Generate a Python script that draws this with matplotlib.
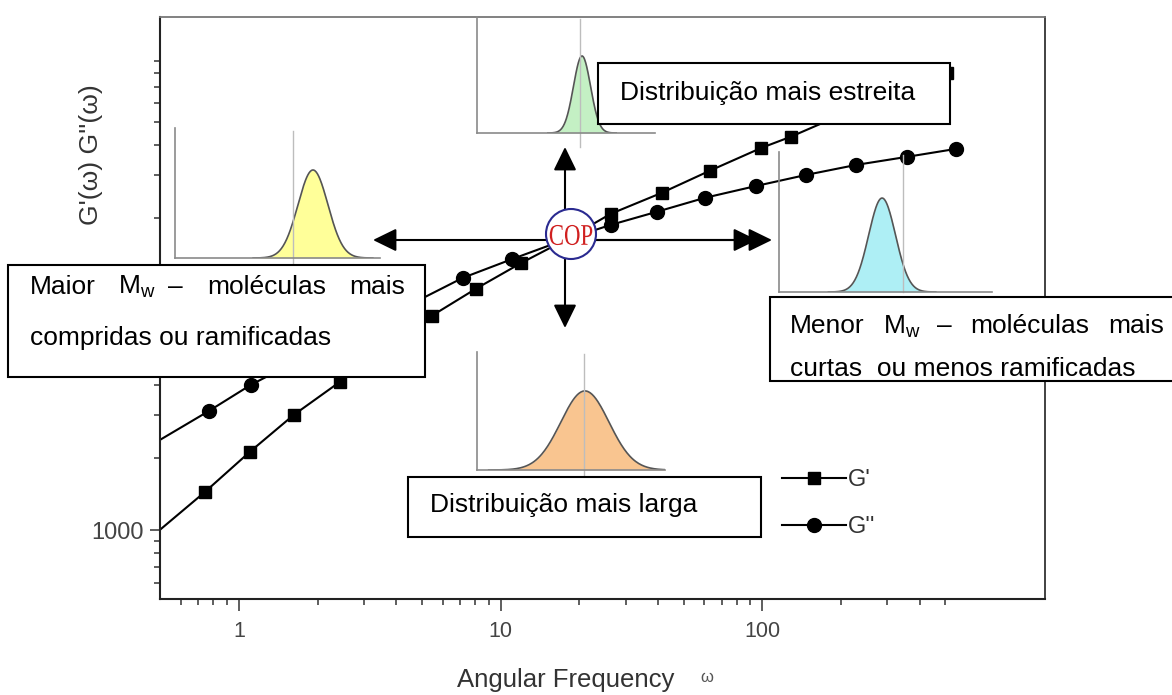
import numpy as np
import matplotlib
matplotlib.use('Agg')
import matplotlib.pyplot as plt
from matplotlib.patches import Rectangle, Circle, PathPatch
from matplotlib.ticker import FixedLocator, FixedFormatter, NullFormatter
from matplotlib.textpath import TextPath
from matplotlib.font_manager import FontProperties
from matplotlib.transforms import Affine2D

plt.rcParams['font.family'] = ['Liberation Sans', 'DejaVu Sans']

W, H = 1172, 695

# G' (squares) - angular frequency vs modulus
freq_g1 = [0.45, 0.742, 1.10, 1.62, 2.43, 3.64, 5.45, 8.03, 12.0, 17.7, 26.3,
           41.2, 62.8, 99.1, 128, 200, 319, 508]
g1 = [910, 1440, 2113, 3014, 4137, 5680, 7795, 10100, 12960, 16160, 20730,
      25360, 31330, 39060, 43400, 53600, 65600, 80200]

# G'' (circles)
freq_g2 = [0.45, 0.768, 1.11, 1.64, 2.43, 3.64, 7.16, 11.1, 17.1, 26.3, 39.4,
           60.1, 94.9, 147, 228.5, 357, 550]
g2 = [2218, 3130, 4020, 5010, 6250, 7720, 11220, 13460, 16000, 18650, 21140,
      24170, 27120, 30140, 33180, 35840, 38690]

# molecular weight distributions shown in the small insets
dist_center = [0.673, 0.59, 0.484, 0.574]
dist_sigma = [0.073, 0.048, 0.063, 0.128]
dist_peak = [0.677, 0.664, 0.671, 0.67]
dist_ref = [0.576, 0.579, 0.582, 0.569]
dist_colors = ['#FFFF99', '#C4F0C4', '#AEEFF5', '#F9C590']

x_major = [1, 10, 100]
x_major_labels = ['1', '10', '100']
x_minor = [0.6, 0.7, 0.8, 0.9] + [2, 3, 4, 5, 6, 7, 8, 9] + \
          [20, 30, 40, 50, 60, 70, 80, 90] + [200, 300, 400, 500]
y_major = [1000, 10000]
y_major_labels = ['1000', '']
y_minor = [600, 700, 800, 900] + [2000, 3000, 4000, 5000, 6000, 7000, 8000, 9000] + \
          [20000, 30000, 40000, 50000, 60000, 70000, 80000, 90000]


def px_axes(l, b, r, t, **kw):
    return fig.add_axes([l / W, 1 - b / H, (r - l) / W, (b - t) / H], **kw)


fig = plt.figure(figsize=(W / 100, H / 100), dpi=100)
fig.patch.set_facecolor('white')

# main axes
ax = px_axes(160, 599, 1045, 17, zorder=0)
ax.set_xscale('log')
ax.set_yscale('log')
ax.set_xlim(0.5, 1200)
ax.set_ylim(516, 137000)

ax.plot(freq_g1, g1, '-s', color='black', ms=9, lw=1.5, label="G'")
ax.plot(freq_g2, g2, '-o', color='black', ms=10, lw=1.5, label="G''")

ax.xaxis.set_major_locator(FixedLocator(x_major))
ax.xaxis.set_major_formatter(FixedFormatter(x_major_labels))
ax.xaxis.set_minor_locator(FixedLocator(x_minor))
ax.xaxis.set_minor_formatter(NullFormatter())
ax.yaxis.set_major_locator(FixedLocator(y_major))
ax.yaxis.set_major_formatter(FixedFormatter(y_major_labels))
ax.yaxis.set_minor_locator(FixedLocator(y_minor))
ax.yaxis.set_minor_formatter(NullFormatter())

ax.tick_params(axis='x', which='major', direction='out', length=8.5, width=1.1,
               color='#333333', labelsize=15.5, labelcolor='#444444', pad=7)
ax.tick_params(axis='x', which='minor', direction='out', length=4.5, width=1.1, color='#333333')
ax.tick_params(axis='y', which='major', direction='out', length=7, width=1.1,
               color='#333333', labelsize=17, labelcolor='#444444', pad=5)
ax.tick_params(axis='y', which='minor', direction='out', length=4, width=1.1, color='#333333')

for s in ['left', 'bottom']:
    ax.spines[s].set_color('#222222')
    ax.spines[s].set_linewidth(1.5)
ax.spines['top'].set_color('#777777')
ax.spines['top'].set_linewidth(1.3)
ax.spines['right'].set_color('#333333')
ax.spines['right'].set_linewidth(1.3)

leg = ax.legend(loc='upper left', bbox_to_anchor=(782 / W, 1 - 469 / H),
                bbox_transform=fig.transFigure, frameon=False, fontsize=17,
                handlelength=2.7, handletextpad=0.1, labelspacing=1.05,
                borderpad=0, borderaxespad=0)
for t in leg.get_texts():
    t.set_color('#333333')

# distribution insets
inset_frames = [(175, 258, 380, 128), (477, 133, 655, 17),
                (779, 292, 992, 152), (477, 470, 665, 352)]
ref_low = [-0.06, -0.12, 0.0, -0.06]
for i, (l, b, r, t) in enumerate(inset_frames):
    ai = px_axes(l, b, r, t, zorder=1)
    ai.set_facecolor('none')
    ai.set_xlim(0, 1)
    ai.set_ylim(0, 1)
    ai.set_xticks([])
    ai.set_yticks([])
    for s in ['top', 'right']:
        ai.spines[s].set_visible(False)
    for s in ['left', 'bottom']:
        ai.spines[s].set_color('#8a8a8a')
        ai.spines[s].set_linewidth(1.2)
    c, sg, pk = dist_center[i], dist_sigma[i], dist_peak[i]
    xx = np.linspace(c - 4 * sg, c + 4 * sg, 200)
    yy = pk * np.exp(-0.5 * ((xx - c) / sg) ** 2)
    ai.fill_between(xx, 0, yy, color=dist_colors[i], lw=0)
    ai.plot(xx, yy, color='#555555', lw=1.2)
    ai.plot([dist_ref[i]] * 2, [ref_low[i], 0.98], color='#bdbdbd', lw=1.0, clip_on=False)

# overlay in pixel coordinates for annotations
ov = fig.add_axes([0, 0, 1, 1], zorder=2)
ov.set_facecolor('none')
ov.set_xlim(0, W)
ov.set_ylim(H, 0)
ov.axis('off')

arrow = dict(arrowstyle='-|>,head_length=0.45,head_width=0.22', lw=1.5,
             color='black', mutation_scale=32, shrinkA=0, shrinkB=0)
ov.annotate('', xy=(373, 240), xytext=(565, 240), arrowprops=arrow)
ov.annotate('', xy=(772, 240), xytext=(565, 240), arrowprops=arrow)
ov.annotate('', xy=(757, 240), xytext=(565, 240), arrowprops=arrow)
ov.annotate('', xy=(565, 147), xytext=(565, 240), arrowprops=arrow)
ov.annotate('', xy=(565, 328), xytext=(565, 240), arrowprops=arrow)

ov.add_patch(Circle((571, 234), 25, facecolor='white', edgecolor='#2a2a90', lw=1.5, zorder=3))
# condensed serif "COP" label
cop = TextPath((0, 0), 'COP', size=30, prop=FontProperties(family='Liberation Serif'))
bb = cop.get_extents()
tr = Affine2D().translate(-(bb.x0 + bb.x1) / 2, -(bb.y0 + bb.y1) / 2).scale(0.76, -1).translate(571, 235)
ov.add_patch(PathPatch(tr.transform_path(cop), facecolor='#d02020', edgecolor='none', zorder=4))

# text boxes
box_kw = dict(facecolor='white', edgecolor='black', lw=1.5, zorder=5)
txt_kw = dict(fontsize=19, color='black', va='baseline', zorder=6)

ov.add_patch(Rectangle((8, 265), 417, 112, **box_kw))
for x, w in zip([30, 118, 168, 207, 349],
                ['Maior', r'M$_{\mathregular{w}}$', '–', 'moléculas', 'mais']):
    ov.text(x, 294, w, **txt_kw)
ov.text(30, 345, 'compridas ou ramificadas', **txt_kw)

ov.add_patch(Rectangle((770, 297), 420, 84, **box_kw))
for x, w in zip([790, 883, 937, 970, 1108],
                ['Menor', r'M$_{\mathregular{w}}$', '–', 'moléculas', 'mais']):
    ov.text(x, 333, w, **txt_kw)
ov.text(790, 376, 'curtas  ou menos ramificadas', **txt_kw)

ov.add_patch(Rectangle((598, 63), 352, 61, **box_kw))
ov.text(620, 100, 'Distribuição mais estreita', **txt_kw)

ov.add_patch(Rectangle((408, 477), 353, 60, **box_kw))
ov.text(430, 512, 'Distribuição mais larga', **txt_kw)

# axis labels
ov.text(457, 680, 'Angular Frequency', fontsize=18.5, color='#333333', ha='left', va='center')
ov.text(707, 678, 'ω', fontsize=12, color='#555555', ha='center', va='center')
ov.text(91, 155, "G'(ω) G''(ω)", fontsize=19, color='#333333', rotation=90,
        ha='center', va='center')

fig.savefig('out.png', dpi=100)
